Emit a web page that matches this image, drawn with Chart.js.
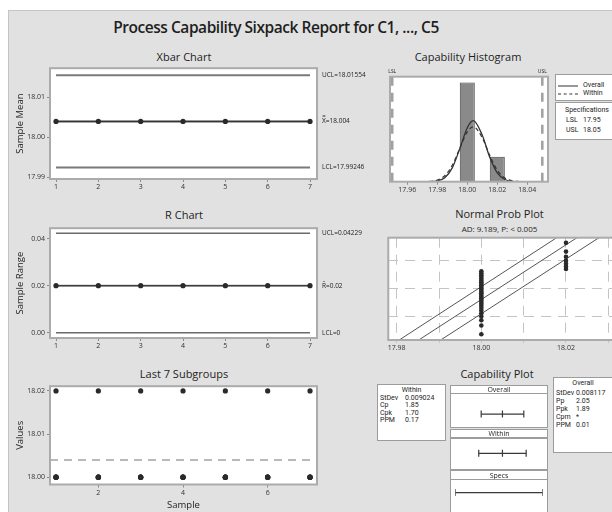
<!DOCTYPE html>
<html>
<head>
<meta charset="utf-8">
<title>Process Capability Sixpack Report for C1, ..., C5</title>
<script src="https://cdn.jsdelivr.net/npm/chart.js@4.4.1/dist/chart.umd.min.js"></script>
<style>
  html, body { margin: 0; padding: 0; }
  body { width: 612px; height: 512px; overflow: hidden; position: relative; background: #fff;
         font-family: "Open Sans", "Noto Sans", sans-serif; color: #1e1e1e; }
  #panel { position: absolute; left: 8px; top: 10px; width: 660px; height: 560px; background: #e1e1e1;
           border-left: 1px solid #c4c4c4; border-top: 1px solid #c4c4c4; }
  .lbl { position: absolute; white-space: nowrap; line-height: 1; transform: translate(-50%, -50%); }
  .txt { position: absolute; white-space: nowrap; line-height: 1; transform: translateY(-50%); }
  .small { font-family: Roboto, "Noto Sans", sans-serif; color: #222; opacity: 0.99; }
  .box { position: absolute; background: #fff; border: 1px solid #9c9c9c; box-sizing: border-box; }
  canvas { position: absolute; }
</style>
</head>
<body>
<div id="panel"></div>
<script>
// ---------- subgroup data (7 subgroups of 5) ----------
const SAMPLES = [1, 2, 3, 4, 5, 6, 7];
const SUBGROUP_VALUES = [
  [18.00, 18.00, 18.00, 18.00, 18.02],
  [18.00, 18.00, 18.00, 18.00, 18.02],
  [18.00, 18.00, 18.00, 18.00, 18.02],
  [18.00, 18.00, 18.00, 18.00, 18.02],
  [18.00, 18.00, 18.00, 18.00, 18.02],
  [18.00, 18.00, 18.00, 18.00, 18.02],
  [18.00, 18.00, 18.00, 18.00, 18.02]
];
const SUBGROUP_MEANS = [18.004, 18.004, 18.004, 18.004, 18.004, 18.004, 18.004];
const SUBGROUP_RANGES = [0.02, 0.02, 0.02, 0.02, 0.02, 0.02, 0.02];

// control limits: [UCL, centre, LCL]
const XBAR_LIMITS = [18.01554, 18.004, 17.99246];
const XBAR_LIMIT_TEXT = ['UCL=18.01554', 'X\u033F=18.004', 'LCL=17.99246'];
const R_LIMITS = [0.04229, 0.02, 0];
const R_LIMIT_TEXT = ['UCL=0.04229', 'R\u0304=0.02', 'LCL=0'];

// axis ticks
const CTRL_X_TICKS = [1, 2, 3, 4, 5, 6, 7];
const LAST_X_TICKS = [2, 4, 6];
const XBAR_Y_TICKS = [17.99, 18.00, 18.01];
const R_Y_TICKS = [0.00, 0.02, 0.04];
const LAST_Y_TICKS = [18.00, 18.01, 18.02];
const HIST_X_TICKS = [17.96, 17.98, 18.00, 18.02, 18.04];
const PROB_X_GRID = [17.98, 17.99, 18.00, 18.01, 18.02, 18.03];
const PROB_X_LABELS = [17.98, 18.00, 18.02];

// ---------- capability histogram ----------
const SPEC_LIMITS = [17.95, 18.05];            // LSL, USL
const HIST_BIN_CENTERS = [18.00, 18.02];
const HIST_COUNTS = [28, 7];
const CURVE_X = [17.97, 17.975, 17.98, 17.985, 17.99, 17.995, 18.00, 18.004, 18.01, 18.015, 18.02, 18.025, 18.03, 18.035];
const OVERALL_CURVE = [0.00, 0.03, 0.22, 1.11, 3.89, 9.30, 15.23, 17.20, 13.09, 6.87, 2.46, 0.61, 0.10, 0.01];
const WITHIN_CURVE = [0.01, 0.09, 0.45, 1.69, 4.65, 9.41, 14.03, 15.47, 12.40, 7.36, 3.21, 1.03, 0.24, 0.04];

// ---------- normal probability plot ----------
const PROB_VALUES = [
  18.00, 18.00, 18.00, 18.00, 18.00, 18.00, 18.00, 18.00, 18.00, 18.00,
  18.00, 18.00, 18.00, 18.00, 18.00, 18.00, 18.00, 18.00, 18.00, 18.00,
  18.00, 18.00, 18.00, 18.00, 18.00, 18.00, 18.00, 18.00,
  18.02, 18.02, 18.02, 18.02, 18.02, 18.02, 18.02
];
const PROB_SCORES = [
  -2.058, -1.664, -1.430, -1.256, -1.113, -0.990, -0.880, -0.780, -0.688, -0.601,
  -0.518, -0.439, -0.362, -0.287, -0.214, -0.142, -0.071, 0.000, 0.071, 0.142,
  0.214, 0.287, 0.362, 0.439, 0.518, 0.601, 0.688, 0.780,
  0.880, 0.990, 1.113, 1.256, 1.430, 1.664, 2.058
];
const PROB_GRID_Z = [-1.2816, 0, 1.2816];     // 10%, 50%, 90%
const PROB_LINE_Z = [-2.32, 2.29];
const PROB_FIT_X = [17.9852, 18.0226];
const PROB_CI_LEFT_X = [17.9806, 18.0178];
const PROB_CI_RIGHT_X = [17.9904, 18.0278];

// ---------- capability plot ----------
const OVERALL_INTERVAL = [17.9797, 18.004, 18.0284];
const WITHIN_INTERVAL = [17.9769, 18.004, 18.0311];
const SPEC_INTERVAL = [17.95, 18.05];
const WITHIN_STATS = [['StDev', '0.009024'], ['Cp', '1.85'], ['Cpk', '1.70'], ['PPM', '0.17']];
const OVERALL_STATS = [['StDev', '0.008117'], ['Pp', '2.05'], ['Ppk', '1.89'], ['Cpm', '*'], ['PPM', '0.01']];

// ================= helpers =================
const FONT = '"Open Sans", "Noto Sans", sans-serif';
Chart.defaults.font.family = FONT;
Chart.defaults.color = '#222';
Chart.defaults.animation = false;
Chart.defaults.responsive = false;
Chart.defaults.plugins.legend.display = false;
Chart.defaults.plugins.tooltip.enabled = false;

function el(cls, text, x, y, size, extra) {
  const d = document.createElement('div');
  d.className = cls;
  d.textContent = text;
  d.style.left = x + 'px';
  d.style.top = y + 'px';
  d.style.fontSize = size + 'px';
  if (extra) Object.assign(d.style, extra);
  document.body.appendChild(d);
  return d;
}
function box(x, y, w, h) {
  const d = document.createElement('div');
  d.className = 'box';
  Object.assign(d.style, { left: x + 'px', top: y + 'px', width: w + 'px', height: h + 'px' });
  document.body.appendChild(d);
  return d;
}
function canvasAt(x, y, w, h) {
  const c = document.createElement('canvas');
  c.width = w; c.height = h;
  Object.assign(c.style, { left: x + 'px', top: y + 'px', width: w + 'px', height: h + 'px' });
  document.body.appendChild(c);
  return c;
}
const fixedTicks = list => scale => { scale.ticks = list.map(v => ({ value: v })); };
const pts = (xs, ys) => xs.map((x, i) => ({ x, y: ys[i] }));

// white plot area, frame and side labels
const framePlugin = {
  id: 'frame',
  beforeDraw(chart, _args, o) {
    const { ctx, chartArea: a } = chart;
    if (o.fill) {
      ctx.save();
      ctx.fillStyle = o.fill;
      ctx.fillRect(a.left, a.top, a.right - a.left, a.bottom - a.top);
      ctx.restore();
    }
  },
  afterDraw(chart, _args, o) {
    const { ctx, chartArea: a } = chart;
    ctx.save();
    if (o.stroke) {
      ctx.strokeStyle = o.stroke;
      ctx.lineWidth = o.lineWidth || 2;
      ctx.strokeRect(a.left, a.top, a.right - a.left, a.bottom - a.top);
    }
    ctx.fillStyle = '#222';
    ctx.font = '6.5px ' + FONT;
    (o.rightLabels || []).forEach(l => {
      ctx.textAlign = 'left';
      ctx.textBaseline = 'middle';
      ctx.fillText(l.text, a.right + 5, chart.scales.y.getPixelForValue(l.value));
    });
    (o.topLabels || []).forEach(l => {
      ctx.textAlign = 'center';
      ctx.textBaseline = 'bottom';
      ctx.font = '5px ' + FONT;
      ctx.fillText(l.text, chart.scales.x.getPixelForValue(l.value), a.top - 3);
    });
    ctx.restore();
  }
};

const tickFont = { size: 7 };
function xAxis(min, max, ticks, height, fmt, title) {
  return {
    type: 'linear', min, max, offset: false,
    afterBuildTicks: fixedTicks(ticks),
    afterFit: s => { s.height = height; },
    ticks: { font: tickFont, color: '#333', padding: 1, maxRotation: 0, autoSkip: false, callback: fmt },
    grid: { drawOnChartArea: false, drawTicks: true, tickLength: 3, color: '#8a8a8a', offset: false },
    border: { display: false },
    title: title ? { display: true, text: title, font: { size: 9.5 }, color: '#222', padding: { top: 0, bottom: 1.5 } } : { display: false }
  };
}
function yAxis(min, max, ticks, title) {
  return {
    type: 'linear', min, max,
    afterBuildTicks: fixedTicks(ticks),
    afterFit: s => { s.width = 42; },
    ticks: { font: tickFont, color: '#333', padding: 2, callback: v => v.toFixed(2) },
    grid: { drawOnChartArea: false, drawTicks: true, tickLength: 3, color: '#8a8a8a' },
    border: { display: false },
    title: { display: true, text: title, font: { size: 9.5 }, color: '#222', padding: { top: 6.5, bottom: 0 } }
  };
}

// ================= layout: titles =================
el('lbl', 'Process Capability Sixpack Report for C1, ..., C5', 276, 28, 15.5, { fontWeight: '600', letterSpacing: '-0.45px' });
el('lbl', 'Xbar Chart', 184, 55.5, 11);
el('lbl', 'R Chart', 184, 214, 11);
el('lbl', 'Last 7 Subgroups', 184, 372.5, 11);
el('lbl', 'Capability Histogram', 468, 55.5, 11);
el('lbl', 'Normal Prob Plot', 499.5, 213, 11);
el('lbl', 'AD: 9.189, P: < 0.005', 499.5, 228.5, 8);
el('lbl', 'Capability Plot', 497, 373, 11);

// ================= control-chart style X range =================
const CTRL_X_MIN = 0.858, CTRL_X_MAX = 7.165;
const first = SAMPLES[0], last = SAMPLES[SAMPLES.length - 1];
const hLine = (v, color, width) => ({
  data: [{ x: first, y: v }, { x: last, y: v }],
  borderColor: color, borderWidth: width, pointRadius: 0
});
const seriesStyle = { borderColor: '#2a2a2a', borderWidth: 1, pointRadius: 2.6, pointBackgroundColor: '#2a2a2a', pointBorderWidth: 0 };

// ---------- Xbar chart ----------
new Chart(canvasAt(8, 62, 372, 135), {
  type: 'line',
  data: {
    datasets: [
      Object.assign({ data: pts(SAMPLES, SUBGROUP_MEANS) }, seriesStyle),
      hLine(XBAR_LIMITS[1], '#8a8a8a', 2.5),
      hLine(XBAR_LIMITS[0], '#7a7a7a', 2),
      hLine(XBAR_LIMITS[2], '#7a7a7a', 2)
    ]
  },
  options: {
    layout: { padding: { left: 0, top: 5, right: 63, bottom: 0 } },
    scales: {
      x: xAxis(CTRL_X_MIN, CTRL_X_MAX, CTRL_X_TICKS, 18, v => String(v)),
      y: yAxis(17.9896, 18.0173, XBAR_Y_TICKS, 'Sample Mean')
    },
    plugins: {
      frame: {
        fill: '#fff', stroke: '#ababab',
        rightLabels: XBAR_LIMITS.map((v, i) => ({ value: v, text: XBAR_LIMIT_TEXT[i] }))
      }
    }
  },
  plugins: [framePlugin]
});

// ---------- R chart ----------
new Chart(canvasAt(8, 222, 372, 134), {
  type: 'line',
  data: {
    datasets: [
      Object.assign({ data: pts(SAMPLES, SUBGROUP_RANGES) }, seriesStyle),
      hLine(R_LIMITS[1], '#8a8a8a', 2),
      hLine(R_LIMITS[0], '#6a6a6a', 1.5),
      hLine(R_LIMITS[2], '#6a6a6a', 1.5)
    ]
  },
  options: {
    layout: { padding: { left: 0, top: 5.3, right: 63, bottom: 0 } },
    scales: {
      x: xAxis(CTRL_X_MIN, CTRL_X_MAX, CTRL_X_TICKS, 18, v => String(v)),
      y: yAxis(-0.0022, 0.0444, R_Y_TICKS, 'Sample Range')
    },
    plugins: {
      frame: {
        fill: '#fff', stroke: '#ababab',
        rightLabels: R_LIMITS.map((v, i) => ({ value: v, text: R_LIMIT_TEXT[i] }))
      }
    }
  },
  plugins: [framePlugin]
});

// ---------- Last 7 subgroups ----------
const subgroupPoints = [];
SUBGROUP_VALUES.forEach((vals, i) => vals.forEach(v => subgroupPoints.push({ x: SAMPLES[i], y: v })));
const grandMean = XBAR_LIMITS[1];
new Chart(canvasAt(8, 380, 372, 132), {
  type: 'line',
  data: {
    datasets: [
      { data: subgroupPoints, showLine: false, pointRadius: 2.6, pointBackgroundColor: '#2a2a2a', pointBorderWidth: 0 },
      { data: [{ x: CTRL_X_MIN, y: grandMean }, { x: CTRL_X_MAX, y: grandMean }],
        borderColor: '#b9b9b9', borderWidth: 2, borderDash: [8, 6], pointRadius: 0 }
    ]
  },
  options: {
    layout: { padding: { left: 0, top: 5, right: 63, bottom: 0 } },
    scales: {
      x: xAxis(CTRL_X_MIN, CTRL_X_MAX, LAST_X_TICKS, 27.5, v => String(v), 'Sample'),
      y: yAxis(17.9983, 18.0211, LAST_Y_TICKS, 'Values')
    },
    plugins: { frame: { fill: '#fff', stroke: '#ababab' } }
  },
  plugins: [framePlugin]
});

// ---------- Capability histogram ----------
const HIST_Y_MAX = 29.6;
const specLine = v => ({
  type: 'line', data: [{ x: v, y: 0 }, { x: v, y: HIST_Y_MAX }],
  borderColor: '#a0a0a0', borderWidth: 2.5, borderDash: [9, 7], pointRadius: 0
});
new Chart(canvasAt(385, 62, 168, 135), {
  type: 'bar',
  data: {
    datasets: [
      { type: 'line', data: pts(CURVE_X, OVERALL_CURVE), borderColor: '#333', borderWidth: 1.3,
        pointRadius: 0, cubicInterpolationMode: 'monotone' },
      { type: 'line', data: pts(CURVE_X, WITHIN_CURVE), borderColor: '#333', borderWidth: 1.2,
        borderDash: [4, 3], pointRadius: 0, cubicInterpolationMode: 'monotone' },
      { type: 'bar', data: pts(HIST_BIN_CENTERS, HIST_COUNTS), backgroundColor: '#8a8a8a',
        borderColor: '#444', borderWidth: 1, barPercentage: 0.5, categoryPercentage: 1 },
      specLine(SPEC_LIMITS[0]),
      specLine(SPEC_LIMITS[1])
    ]
  },
  options: {
    layout: { padding: { left: 5, top: 14.7, right: 5, bottom: 0 } },
    scales: {
      x: xAxis(17.9485, 18.0538, HIST_X_TICKS, 15.3, v => v.toFixed(2)),
      y: { type: 'linear', display: false, min: 0, max: HIST_Y_MAX }
    },
    plugins: {
      frame: {
        fill: '#fff', stroke: '#ababab',
        topLabels: [{ value: SPEC_LIMITS[0], text: 'LSL' }, { value: SPEC_LIMITS[1], text: 'USL' }]
      }
    }
  },
  plugins: [framePlugin]
});

// histogram legend
box(555, 74, 70, 27);
el('txt', '', 558, 85.5, 6, { width: '20px', borderTop: '1.3px solid #333' });
el('txt small', 'Overall', 583, 85, 7);
el('txt', '', 558, 93.5, 6, { width: '20px', borderTop: '1.3px dashed #333' });
el('txt small', 'Within', 583, 93, 7);
box(555, 102, 70, 38);
el('lbl small', 'Specifications', 587, 109.5, 7);
el('txt small', 'LSL', 566, 120, 7);
el('txt small', '17.95', 583, 120, 7);
el('txt small', 'USL', 566, 130, 7);
el('txt small', '18.05', 583, 130, 7);

// ---------- Normal probability plot ----------
const probLine = xs => ({ data: pts(xs, PROB_LINE_Z), borderColor: '#555', borderWidth: 1, pointRadius: 0 });
new Chart(canvasAt(383, 232, 260, 125), {
  type: 'line',
  data: {
    datasets: [
      { data: pts(PROB_VALUES, PROB_SCORES), showLine: false, pointRadius: 2.3,
        pointBackgroundColor: '#2a2a2a', pointBorderWidth: 0 },
      probLine(PROB_FIT_X),
      probLine(PROB_CI_LEFT_X),
      probLine(PROB_CI_RIGHT_X)
    ]
  },
  options: {
    layout: { padding: { left: 5.3, top: 5.7, right: 3, bottom: 0 } },
    scales: {
      x: {
        type: 'linear', min: 17.97802, max: 18.03725,
        afterBuildTicks: fixedTicks(PROB_X_GRID),
        afterFit: s => { s.height = 17; },
        ticks: { font: tickFont, color: '#333', padding: 1, maxRotation: 0, autoSkip: false,
                 callback: v => PROB_X_LABELS.some(t => Math.abs(t - v) < 1e-6) ? v.toFixed(2) : '' },
        grid: { drawOnChartArea: true, drawTicks: true, tickLength: 3, color: '#c4c4c4', lineWidth: 1 },
        border: { display: false, dash: [10, 7] }
      },
      y: {
        type: 'linear', min: -2.32, max: 2.29,
        afterBuildTicks: fixedTicks(PROB_GRID_Z),
        afterFit: s => { s.width = 0; },
        ticks: { display: false },
        grid: { drawOnChartArea: true, drawTicks: false, color: '#c4c4c4', lineWidth: 1 },
        border: { display: false, dash: [10, 7] }
      }
    },
    plugins: { frame: { fill: '#fff', stroke: '#ababab' } }
  },
  plugins: [framePlugin]
});

// ---------- Capability plot ----------
// statistics tables
box(377, 384, 69, 57);
el('lbl small', 'Within', 411.5, 389.5, 7);
WITHIN_STATS.forEach((r, i) => {
  el('txt small', r[0], 380, 397.5 + i * 7.6, 7);
  el('txt small', r[1], 405, 397.5 + i * 7.6, 7);
});
box(553, 377, 60, 76);
el('lbl small', 'Overall', 583, 383, 7);
OVERALL_STATS.forEach((r, i) => {
  el('txt small', r[0], 556, 392.5 + i * 8, 7);
  el('txt small', r[1], 576, 392.5 + i * 8, 7);
});
// central column: headers and panels
box(450, 385, 98, 9);   el('lbl', 'Overall', 499, 389.3, 7);
box(450, 393, 98, 35);
box(450, 429, 98, 9);   el('lbl', 'Within', 499, 433.3, 7);
box(450, 437.5, 98, 32);
box(450, 470, 98, 9.5); el('lbl', 'Specs', 499, 474.6, 7);
box(450, 479, 98, 40);

const CAP_ROW_Y = [3, 2, 1];   // Overall, Within, Specs
const intervalSet = (xs, row) => ({
  data: xs.map(x => ({ x, y: row })),
  borderColor: '#3a3a3a', borderWidth: 1.2,
  pointStyle: 'line', rotation: 90, pointRadius: 3.5, pointBorderWidth: 1.2, pointBorderColor: '#3a3a3a'
});
new Chart(canvasAt(450, 385, 98, 127), {
  type: 'line',
  data: {
    datasets: [
      intervalSet(OVERALL_INTERVAL, CAP_ROW_Y[0]),
      intervalSet(WITHIN_INTERVAL, CAP_ROW_Y[1]),
      intervalSet(SPEC_INTERVAL, CAP_ROW_Y[2])
    ]
  },
  options: {
    layout: { padding: { left: 4.3, top: 0, right: 5.3, bottom: 0 } },
    scales: {
      x: { type: 'linear', display: false, min: SPEC_LIMITS[0], max: SPEC_LIMITS[1] },
      y: { type: 'linear', display: false, min: 0.637, max: 3.608 }
    }
  }
});
</script>
</body>
</html>
